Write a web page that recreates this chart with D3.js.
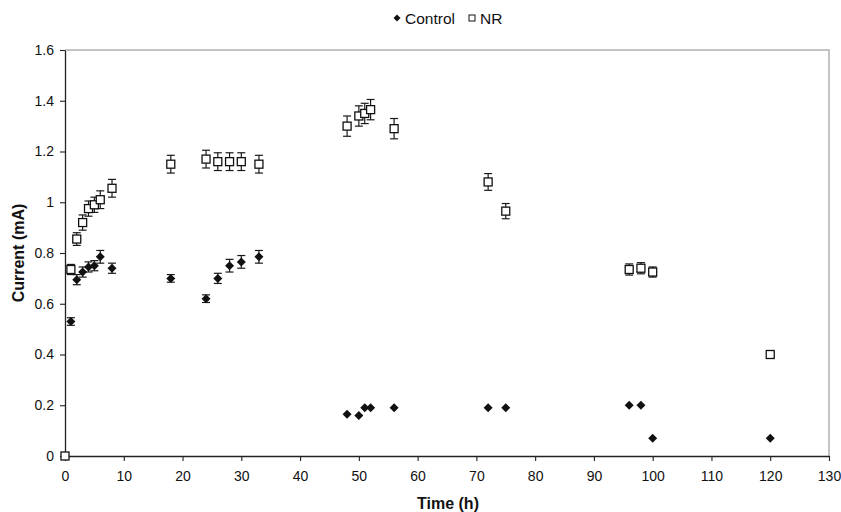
<!DOCTYPE html>
<html>
<head>
<meta charset="utf-8">
<script src="https://cdn.jsdelivr.net/npm/d3@7"></script>
<style>
  body { margin: 0; background: #fff; }
  svg { font-family: "Liberation Sans", Arial, sans-serif; }
</style>
</head>
<body>
<script>
// time points (h)
var timeNR = [0, 1, 2, 3, 4, 5, 6, 8, 18, 24, 26, 28, 30, 33, 48, 50, 51, 52, 56, 72, 75, 96, 98, 100, 120];
var currentNR = [0, 0.735, 0.855, 0.92, 0.975, 0.99, 1.01, 1.055, 1.15, 1.17, 1.16, 1.16, 1.16, 1.15, 1.30, 1.34, 1.35, 1.365, 1.29, 1.08, 0.965, 0.735, 0.74, 0.725, 0.40];
var errNR = [0, 0.02, 0.025, 0.03, 0.03, 0.03, 0.035, 0.035, 0.035, 0.035, 0.035, 0.035, 0.035, 0.035, 0.04, 0.04, 0.04, 0.04, 0.04, 0.033, 0.03, 0.022, 0.022, 0.02, 0];

var timeControl = [1, 2, 3, 4, 5, 6, 8, 18, 24, 26, 28, 30, 33, 48, 50, 51, 52, 56, 72, 75, 96, 98, 100, 120];
var currentControl = [0.53, 0.695, 0.725, 0.745, 0.75, 0.785, 0.74, 0.70, 0.62, 0.70, 0.75, 0.765, 0.785, 0.165, 0.16, 0.19, 0.19, 0.19, 0.19, 0.19, 0.20, 0.20, 0.07, 0.07];
var errControl = [0.015, 0.02, 0.02, 0.02, 0.02, 0.025, 0.02, 0.015, 0.015, 0.02, 0.025, 0.025, 0.025, 0, 0, 0, 0, 0, 0, 0, 0, 0, 0, 0];

var xTicks = d3.range(0, 131, 10);
var yTicks = [0, 0.2, 0.4, 0.6, 0.8, 1, 1.2, 1.4, 1.6];

var w = 841, h = 512;
var margin = {left: 65, right: 12, top: 50, bottom: 56};

var svg = d3.select("body").append("svg")
  .attr("width", w)
  .attr("height", h);

var xScale = d3.scaleLinear()
  .domain([0, 130])
  .range([margin.left, w - margin.right]);

var yScale = d3.scaleLinear()
  .domain([0, 1.6])
  .range([h - margin.bottom, margin.top]);

/* ===== PLOT FRAME (top/right) ===== */
svg.append("path")
  .attr("d", "M" + xScale(0) + "," + yScale(1.6) + "H" + xScale(130) + "V" + yScale(0))
  .attr("fill", "none")
  .attr("stroke", "#b0b0b0")
  .attr("stroke-width", 1.5);

/* ===== AXES ===== */
var xAxis = d3.axisBottom(xScale)
  .tickValues(xTicks)
  .tickSize(5)
  .tickPadding(10)
  .tickSizeOuter(0);

var yAxis = d3.axisLeft(yScale)
  .tickValues(yTicks)
  .tickSize(5)
  .tickPadding(6)
  .tickSizeOuter(0)
  .tickFormat(function (d) { return d3.format("")(+d.toFixed(1)); });

var gx = svg.append("g")
  .attr("transform", "translate(0," + yScale(0) + ")")
  .call(xAxis);

var gy = svg.append("g")
  .attr("transform", "translate(" + xScale(0) + ",0)")
  .call(yAxis);

[gx, gy].forEach(function (g) {
  g.select(".domain").attr("stroke", "#222").attr("stroke-width", 1.3);
  g.selectAll(".tick line").attr("stroke", "#222").attr("stroke-width", 1.1);
  g.selectAll(".tick text")
    .attr("font-size", "14px")
    .attr("fill", "#111")
    .attr("font-family", "Liberation Sans, Arial, sans-serif");
});

/* ===== AXIS TITLES ===== */
svg.append("text")
  .attr("x", 448)
  .attr("y", 509)
  .attr("text-anchor", "middle")
  .attr("font-size", "16px")
  .attr("font-weight", "bold")
  .attr("fill", "#111")
  .text("Time (h)");

svg.append("text")
  .attr("transform", "translate(24," + (yScale(0.8)) + ") rotate(-90)")
  .attr("text-anchor", "middle")
  .attr("font-size", "16px")
  .attr("font-weight", "bold")
  .attr("fill", "#111")
  .text("Current (mA)");

/* ===== SERIES ===== */
function drawSeries(times, values, errs, shape) {
  var pts = times.map(function (t, i) { return {t: t, v: values[i], e: errs[i]}; });
  var g = svg.append("g");

  var eb = g.selectAll("g.err")
    .data(pts.filter(function (d) { return d.e > 0; }))
    .enter().append("g")
    .attr("stroke", "#1a1a1a")
    .attr("stroke-width", 1.2);
  eb.append("line")
    .attr("x1", function (d) { return xScale(d.t); })
    .attr("x2", function (d) { return xScale(d.t); })
    .attr("y1", function (d) { return yScale(d.v - d.e); })
    .attr("y2", function (d) { return yScale(d.v + d.e); });
  [-1, 1].forEach(function (s) {
    eb.append("line")
      .attr("x1", function (d) { return xScale(d.t) - 4; })
      .attr("x2", function (d) { return xScale(d.t) + 4; })
      .attr("y1", function (d) { return yScale(d.v + s * d.e); })
      .attr("y2", function (d) { return yScale(d.v + s * d.e); });
  });

  if (shape === "diamond") {
    g.selectAll("path.mk")
      .data(pts)
      .enter().append("path")
      .attr("d", "M0,-4.5L4.5,0L0,4.5L-4.5,0Z")
      .attr("transform", function (d) { return "translate(" + xScale(d.t) + "," + yScale(d.v) + ")"; })
      .attr("fill", "#111");
  } else {
    g.selectAll("rect.mk")
      .data(pts)
      .enter().append("rect")
      .attr("x", function (d) { return xScale(d.t) - 4; })
      .attr("y", function (d) { return yScale(d.v) - 4; })
      .attr("width", 8)
      .attr("height", 8)
      .attr("fill", "#fff")
      .attr("stroke", "#111")
      .attr("stroke-width", 1.3);
  }
}

drawSeries(timeControl, currentControl, errControl, "diamond");
drawSeries(timeNR, currentNR, errNR, "square");

/* ===== LEGEND ===== */
var lg = svg.append("g").attr("transform", "translate(397,18)");
lg.append("path").attr("d", "M0,-3.5L3.5,0L0,3.5L-3.5,0Z").attr("fill", "#111");
lg.append("text").attr("x", 8).attr("y", 5.5).attr("font-size", "15.5px").attr("fill", "#111").text("Control");
lg.append("rect").attr("x", 72).attr("y", -3).attr("width", 6).attr("height", 6)
  .attr("fill", "#fff").attr("stroke", "#111").attr("stroke-width", 1);
lg.append("text").attr("x", 83).attr("y", 5.5).attr("font-size", "15.5px").attr("fill", "#111").text("NR");
</script>
</body>
</html>
